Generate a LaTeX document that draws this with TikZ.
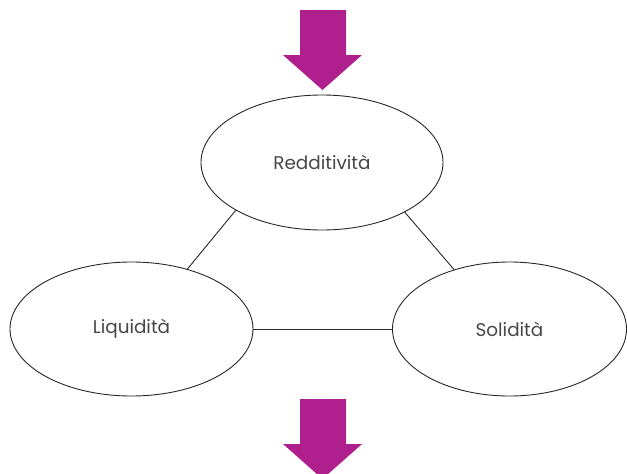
\documentclass[tikz,border=0pt]{standalone}
\usepackage{fontspec}
\setmainfont{Poppins}[Ligatures=NoCommon]
\usetikzlibrary{shapes.geometric}
\definecolor{arrowmag}{RGB}{175,31,141}
\definecolor{labelgray}{RGB}{70,70,70}
\begin{document}
\begin{tikzpicture}[x=1pt,y=-1pt,
  bubble/.style={ellipse, draw=black!85, line width=0.9pt, inner sep=0pt,
    font=\fontsize{18.4}{21}\selectfont, text=labelgray},
  link/.style={draw=black!85, line width=0.9pt},
  bigarrow/.style={fill=arrowmag, draw=none}]
\useasboundingbox (0,0) rectangle (627,474);

% three ellipses
\node[bubble, minimum width=242pt, minimum height=135pt] (R) at (322,162.5) {Redditività};
\node[bubble, minimum width=243pt, minimum height=134pt] (L) at (131.5,329) {Liquidità};
\node[bubble, minimum width=234pt, minimum height=134pt] (S) at (509.5,329) {Solidità};

% connectors
\draw[link] (R.209.4) -- (L.47.7);
\draw[link] (R.-31.1) -- (S.133.8);
\draw[link] (L.east) -- (S.west);

% block arrows
\fill[bigarrow] (300,10) -- (346,10) -- (346,55) -- (362,55) -- (322.5,90)
  -- (283,55) -- (300,55) -- cycle;
\fill[bigarrow] (300,399) -- (346,399) -- (346,444) -- (362,444) -- (322.5,479)
  -- (283,444) -- (300,444) -- cycle;
\end{tikzpicture}
\end{document}
